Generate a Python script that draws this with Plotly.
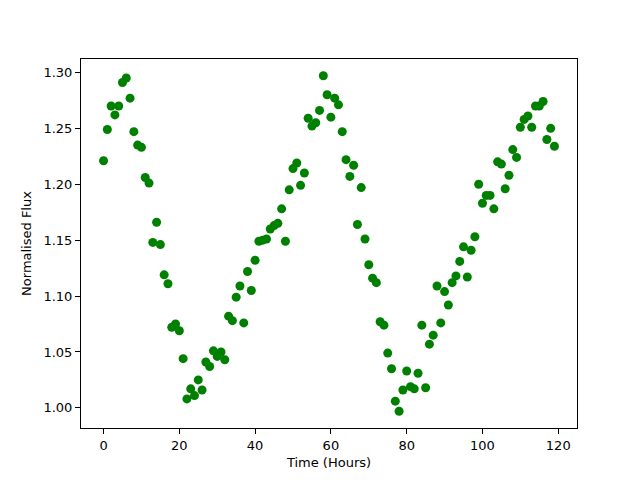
import plotly.graph_objects as go

hours = list(range(120))
flux = [1.221, 1.249, 1.270, 1.262, 1.270, 1.291, 1.295, 1.277, 1.247, 1.235,
        1.233, 1.206, 1.201, 1.148, 1.166, 1.146, 1.119, 1.111, 1.072, 1.075,
        1.069, 1.044, 1.008, 1.017, 1.011, 1.025, 1.016, 1.041, 1.037, 1.051,
        1.046, 1.050, 1.043, 1.082, 1.078, 1.099, 1.109, 1.076, 1.122, 1.105,
        1.132, 1.149, 1.150, 1.151, 1.160, 1.163, 1.165, 1.178, 1.149, 1.195,
        1.214, 1.219, 1.199, 1.210, 1.259, 1.252, 1.255, 1.266, 1.297, 1.280,
        1.260, 1.277, 1.271, 1.247, 1.222, 1.207, 1.217, 1.164, 1.197, 1.151,
        1.128, 1.116, 1.112, 1.077, 1.074, 1.049, 1.035, 1.006, 0.997, 1.016,
        1.033, 1.019, 1.017, 1.031, 1.074, 1.018, 1.057, 1.065, 1.109, 1.076,
        1.104, 1.092, 1.112, 1.118, 1.131, 1.144, 1.117, 1.141, 1.153, 1.200,
        1.183, 1.190, 1.190, 1.178, 1.220, 1.218, 1.196, 1.208, 1.231, 1.224,
        1.251, 1.258, 1.261, 1.251, 1.270, 1.270, 1.274, 1.240, 1.250, 1.234]

x_ticks = [0, 20, 40, 60, 80, 100, 120]
y_ticks = [1.00, 1.05, 1.10, 1.15, 1.20, 1.25, 1.30]

fig = go.Figure(go.Scatter(x=hours, y=flux, mode="markers",
                           marker=dict(color="#008000", size=9, line=dict(width=0))))

axis_common = dict(showline=True, linecolor="black", linewidth=1, mirror=True,
                   ticks="outside", ticklen=5, tickwidth=1, tickcolor="black",
                   showgrid=False, zeroline=False, automargin=False,
                   tickfont=dict(family="DejaVu Sans", size=13, color="black"))

fig.update_layout(
    width=640, height=480,
    margin=dict(l=73, r=71, t=51, b=60),
    paper_bgcolor="white", plot_bgcolor="white",
    showlegend=False,
    font=dict(family="DejaVu Sans", size=13, color="black"),
    xaxis=dict(range=[-5.95, 124.95], tickvals=x_ticks, ticktext=[str(v) for v in x_ticks],
               title=dict(text="Time (Hours)", standoff=6,
                          font=dict(family="DejaVu Sans", size=13, color="black")),
               **axis_common),
    yaxis=dict(range=[0.982, 1.312], tickvals=y_ticks, ticktext=[f"{v:.2f}" for v in y_ticks],
               title=dict(text="Normalised Flux", standoff=8,
                          font=dict(family="DejaVu Sans", size=13, color="black")),
               **axis_common),
)

fig.write_html("out.html")
